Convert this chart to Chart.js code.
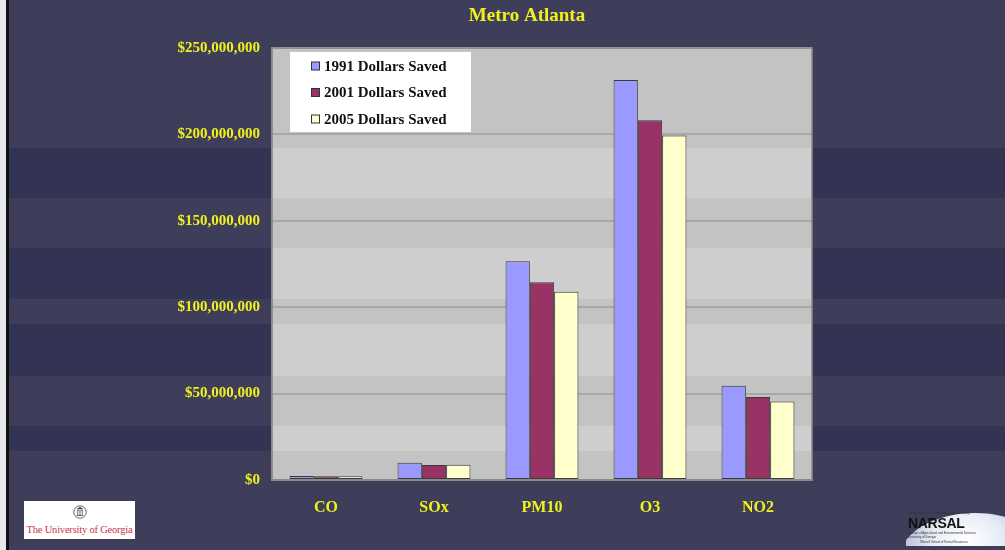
<!DOCTYPE html>
<html>
<head>
<meta charset="utf-8">
<title>Metro Atlanta</title>
<script src="https://cdn.jsdelivr.net/npm/chart.js@4/dist/chart.umd.min.js"></script>
<style>
  html, body { margin: 0; padding: 0; background: #3e3d5a; overflow: hidden; }
  #wrap { position: relative; width: 1005px; height: 550px; }
  #chart { position: absolute; left: 0; top: 0; }
  .edge-white { position: absolute; left: 0; top: 0; width: 6px; height: 550px; background: #e8e8ec; }
  .edge-black { position: absolute; left: 6px; top: 0; width: 3px; height: 550px; background: #111; }
  .uga { position: absolute; left: 24px; top: 501px; width: 111px; height: 38px; background: #fff;
         font-family: "Liberation Serif", serif; color: #c8324a; text-align: center; }
  .uga svg { position: absolute; left: 49px; top: 3px; }
  .uga span { position: absolute; left: 0; right: 0; top: 23px; font-size: 10.5px; letter-spacing: -0.2px; white-space: nowrap; }
  .narsal { position: absolute; left: 906px; top: 510px; width: 99px; height: 36px; overflow: hidden; }
  .narsal .dome { position: absolute; left: -6px; top: 3px; width: 150px; height: 90px; border-radius: 50%;
         background: radial-gradient(ellipse at 45% 30%, #ffffff 0%, #e6ecf6 30%, #a9b6d2 62%, #5d6488 85%, #3e3d5a 100%); }
  .narsal .t { position: absolute; font-family: "Liberation Sans", sans-serif; white-space: nowrap; color: #333; }
</style>
</head>
<body>
<div id="wrap">
  <canvas id="chart" width="1005" height="550"></canvas>
  <div class="edge-white"></div>
  <div class="edge-black"></div>
  <div class="uga">
    <svg width="14" height="16" viewBox="0 0 14 16">
      <circle cx="7" cy="8" r="6.2" fill="none" stroke="#555" stroke-width="0.9"/>
      <path d="M3.5 5 L10.5 5 L7 2.8 Z" fill="#555"/>
      <rect x="3.8" y="5.6" width="6.4" height="0.9" fill="#555"/>
      <rect x="4.3" y="6.7" width="0.9" height="4.2" fill="#555"/>
      <rect x="6.55" y="6.7" width="0.9" height="4.2" fill="#555"/>
      <rect x="8.8" y="6.7" width="0.9" height="4.2" fill="#555"/>
      <rect x="3.8" y="11" width="6.4" height="0.9" fill="#555"/>
    </svg>
    <span>The University of Georgia</span>
  </div>
  <div class="narsal">
    <div class="dome"></div>
    <div class="t" style="left:2px;top:1px;font-size:3px;">Natural Resources Spatial Analysis Laboratory</div>
    <div class="t" style="left:2px;top:5px;font-size:14px;font-weight:bold;color:#111;letter-spacing:-0.3px;">NARSAL</div>
    <div class="t" style="left:2px;top:21px;font-size:3px;">College of Agricultural and Environmental Sciences</div>
    <div class="t" style="left:2px;top:25px;font-size:3px;">University of Georgia</div>
    <div class="t" style="left:14px;top:30px;font-size:3px;">Warnell School of Forest Resources</div>
  </div>
</div>
<script>
// Pollutant categories and the dollars saved per period
const categories = ['CO', 'SOx', 'PM10', 'O3', 'NO2'];
const saved1991 = [2300000, 10000000, 126600000, 231500000, 54500000];
const saved2001 = [2200000, 8700000, 114500000, 208200000, 48000000];
const saved2005 = [2100000, 8800000, 109000000, 199300000, 45500000];
const seriesLabels = ['1991 Dollars Saved', '2001 Dollars Saved', '2005 Dollars Saved'];
const yTickValues = [0, 50000000, 100000000, 150000000, 200000000, 250000000];
const chartTitle = 'Metro Atlanta';

const YELLOW = '#f0f01e';
const SERIF = '"Liberation Serif", "Times New Roman", serif';
const seriesColors = ['#9999ff', '#993366', '#ffffcc'];

// Horizontal banding of the slide background (pixel rows)
const bands = [[148, 198], [248, 299], [324, 376], [426, 451]];

const backdrop = {
  id: 'backdrop',
  beforeDraw(chart) {
    const { ctx, width, chartArea: a } = chart;
    ctx.save();
    ctx.fillStyle = '#3e3d5a';
    ctx.fillRect(0, 0, width, chart.height);
    ctx.fillStyle = '#333354';
    bands.forEach(([y0, y1]) => ctx.fillRect(0, y0, width, y1 - y0));
    ctx.fillStyle = '#c3c3c3';
    ctx.fillRect(a.left, a.top, a.right - a.left, a.bottom - a.top);
    ctx.fillStyle = '#cecece';
    bands.forEach(([y0, y1]) => {
      const t = Math.max(y0, a.top), b = Math.min(y1, a.bottom);
      if (b > t) ctx.fillRect(a.left, t, a.right - a.left, b - t);
    });
    // slide title, centred over the slide rather than the plot
    ctx.fillStyle = YELLOW;
    ctx.font = 'bold 19px ' + SERIF;
    ctx.textAlign = 'center';
    ctx.textBaseline = 'middle';
    ctx.fillText(chartTitle, 527, 16);
    ctx.restore();
  },
  beforeDatasetsDraw(chart) {
    const { ctx, chartArea: a } = chart;
    ctx.save();
    ctx.strokeStyle = '#8a8a8a';
    ctx.lineWidth = 1.5;
    ctx.strokeRect(a.left, a.top, a.right - a.left, a.bottom - a.top);
    ctx.restore();
  }
};

// Boxed legend drawn inside the plot's upper-left corner
const boxLegend = {
  id: 'boxLegend',
  afterDraw(chart) {
    const { ctx, chartArea: a } = chart;
    const x = a.left + 18, y = a.top + 4, w = 181, h = 80;
    ctx.save();
    ctx.fillStyle = '#ffffff';
    ctx.fillRect(x, y, w, h);
    ctx.font = 'bold 15px ' + SERIF;
    ctx.textBaseline = 'middle';
    chart.data.datasets.forEach((ds, i) => {
      const cy = y + 14 + i * 26.5;
      ctx.fillStyle = ds.backgroundColor;
      ctx.fillRect(x + 21.5, cy - 4, 8, 8);
      ctx.strokeStyle = '#333';
      ctx.lineWidth = 1;
      ctx.strokeRect(x + 21.5, cy - 4, 8, 8);
      ctx.fillStyle = '#111';
      ctx.fillText(ds.label, x + 34, cy + 1);
    });
    ctx.restore();
  }
};

const dataSeries = [saved1991, saved2001, saved2005];

new Chart(document.getElementById('chart'), {
  type: 'bar',
  data: {
    labels: categories,
    datasets: dataSeries.map((vals, i) => ({
      label: seriesLabels[i],
      data: vals,
      backgroundColor: seriesColors[i],
      borderColor: '#3a3a3a',
      borderWidth: 1,
      borderSkipped: false,
      categoryPercentage: 0.675,
      barPercentage: 1.0
    }))
  },
  options: {
    responsive: false,
    animation: false,
    devicePixelRatio: 1,
    layout: { padding: { left: 0, right: 193, top: 48, bottom: 0 } },
    plugins: {
      legend: { display: false },
      tooltip: { enabled: false },
      title: { display: false }
    },
    scales: {
      x: {
        grid: { display: false, drawTicks: false },
        border: { display: true, color: '#8a8a8a', width: 1.5 },
        ticks: { color: YELLOW, font: { family: SERIF, size: 16, weight: 'bold' }, padding: 18 },
        afterFit(scale) { scale.height = 70; }
      },
      y: {
        min: 0,
        max: 250000000,
        afterBuildTicks(scale) { scale.ticks = yTickValues.map(v => ({ value: v })); },
        grid: { color: '#a8a8a8', lineWidth: 2, drawTicks: false },
        border: { display: true, color: '#8a8a8a', width: 1.5 },
        ticks: {
          color: YELLOW,
          font: { family: SERIF, size: 15, weight: 'bold' },
          padding: 12,
          callback: v => '$' + Number(v).toLocaleString('en-US')
        },
        afterFit(scale) { scale.width = 272; }
      }
    }
  },
  plugins: [backdrop, boxLegend]
});
</script>
</body>
</html>
